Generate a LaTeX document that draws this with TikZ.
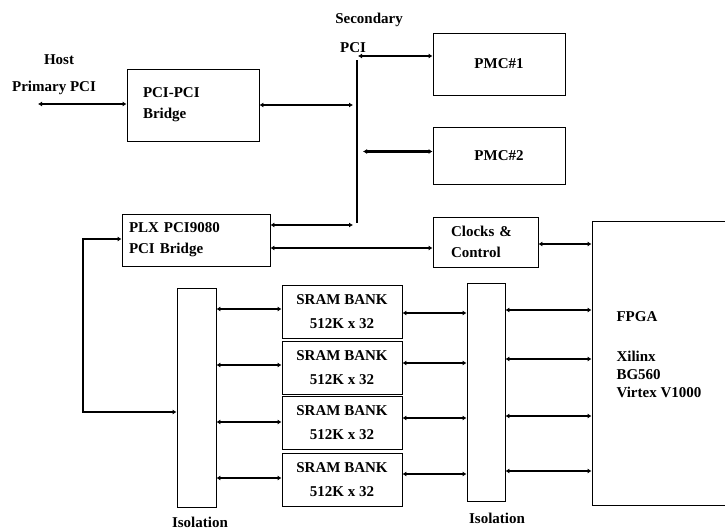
\documentclass[tikz,border=0pt]{standalone}
\usepackage{fontspec}
\setmainfont{Liberation Serif}
\usetikzlibrary{arrows.meta,positioning,calc}

\begin{document}
\begin{tikzpicture}[
    x=1pt,y=-1pt,
    blk/.style = {draw,line width=0.8pt,inner sep=0pt,
                  font=\bfseries\fontsize{15}{21}\selectfont},
    lbl/.style = {font=\bfseries\fontsize{15}{18}\selectfont},
    lnk/.style = {line width=2.8pt,line join=miter,
                  {Latex[length=4pt,width=5pt]}-{Latex[length=4pt,width=5pt]}},
  ]
  \useasboundingbox (0,0) rectangle (725,531);
  \clip (0,0) rectangle (725,531);

  % Blocs
  \node[blk,minimum width=132,minimum height=72,align=left,text width=100]
       (ppb) at (193,105) {PCI-PCI\\Bridge};
  \node[blk,minimum width=132,minimum height=62,align=center] (pmc1) at (499,64) {PMC\#1};
  \node[blk,minimum width=132,minimum height=57,align=center] (pmc2) at (499,155.5) {PMC\#2};
  \node[blk,minimum width=148,minimum height=52,align=left,text width=134]
       (plx) at (196,240) {PLX PCI9080\\PCI Bridge};
  \node[blk,minimum width=105,minimum height=50,align=left,text width=69]
       (clk) at (485.5,242) {Clocks \&\\Control};
  \node[blk,minimum width=143,minimum height=284] (fpga) at (663.5,363) {};
  \node[lbl,anchor=west,align=left] (fpgatxt) at (613,355)
       {FPGA\\[22pt]Xilinx\\BG560\\Virtex V1000};
  \node[blk,minimum width=39,minimum height=219] (liso) at (196.5,397.5) {};
  \node[blk,minimum width=38,minimum height=218] (riso) at (486,392) {};
  \foreach \s/\y in {1/311.5,2/367.5,3/423,4/479.5}
    \node[blk,minimum width=120,minimum height=53,align=center,
          font=\bfseries\fontsize{15}{24}\selectfont]
         (sram\s) at (342,\y) {SRAM BANK\\512K x 32};

  % Textes
  \node[lbl] (host) at (59,60) {Host};
  \node[lbl] (prim) at (54,88) {Primary PCI};
  \node[lbl] (sec) at (369,20) {Secondary};
  \node[lbl] (secpci) at (353,48) {PCI};
  \node[lbl] (lisolbl) at (200,522) {Isolation};
  \node[lbl] (risolbl) at (497,518) {Isolation};

  % Bus secondaire
  \coordinate (bustop) at (357,60);
  \coordinate (busbot) at (357,223);
  \coordinate (pcitap) at (358,56);
  \coordinate (hostend) at (38,104);
  \draw[line width=2.8pt] (bustop) -- (busbot);
  \draw[lnk] (hostend) -- (hostend -| ppb.west);
  \draw[lnk,shorten >=4pt] (ppb.east) -- (ppb.east -| bustop);
  \draw[lnk] (pcitap) -- (pcitap -| pmc1.west);
  \draw[lnk,shorten <=6pt] ($(bustop |- pmc2.west)+(0,-4)$) -- ($(pmc2.west)+(0,-4)$);
  \draw[lnk,shorten >=4pt] ($(plx.east |- busbot)+(0,2)$) -- ($(busbot)+(0,2)$);

  % PLX, horloges, FPGA
  \draw[lnk] ($(plx.east)+(0,8)$) -- ($(clk.west |- plx.east)+(0,8)$);
  \draw[lnk] ($(clk.east)+(0,2)$) -- ($(clk.east -| fpga.west)+(0,2)$);
  \coordinate (loopb) at (83,412);
  \draw[lnk] ($(plx.west)+(0,-1)$) -| (loopb) -- (loopb -| liso.west);

  % Bancs SRAM
  \foreach \s/\ya/\yb/\yc in {1/309/313/310,2/365/363/359,3/422/418/416,4/478/474/471} {
    \draw[lnk] (liso.east |- 0,\ya) -- (sram\s.west |- 0,\ya);
    \draw[lnk] (sram\s.east |- 0,\yb) -- (riso.west |- 0,\yb);
    \draw[lnk] (riso.east |- 0,\yc) -- (fpga.west |- 0,\yc);
  }

\end{tikzpicture}
\end{document}
